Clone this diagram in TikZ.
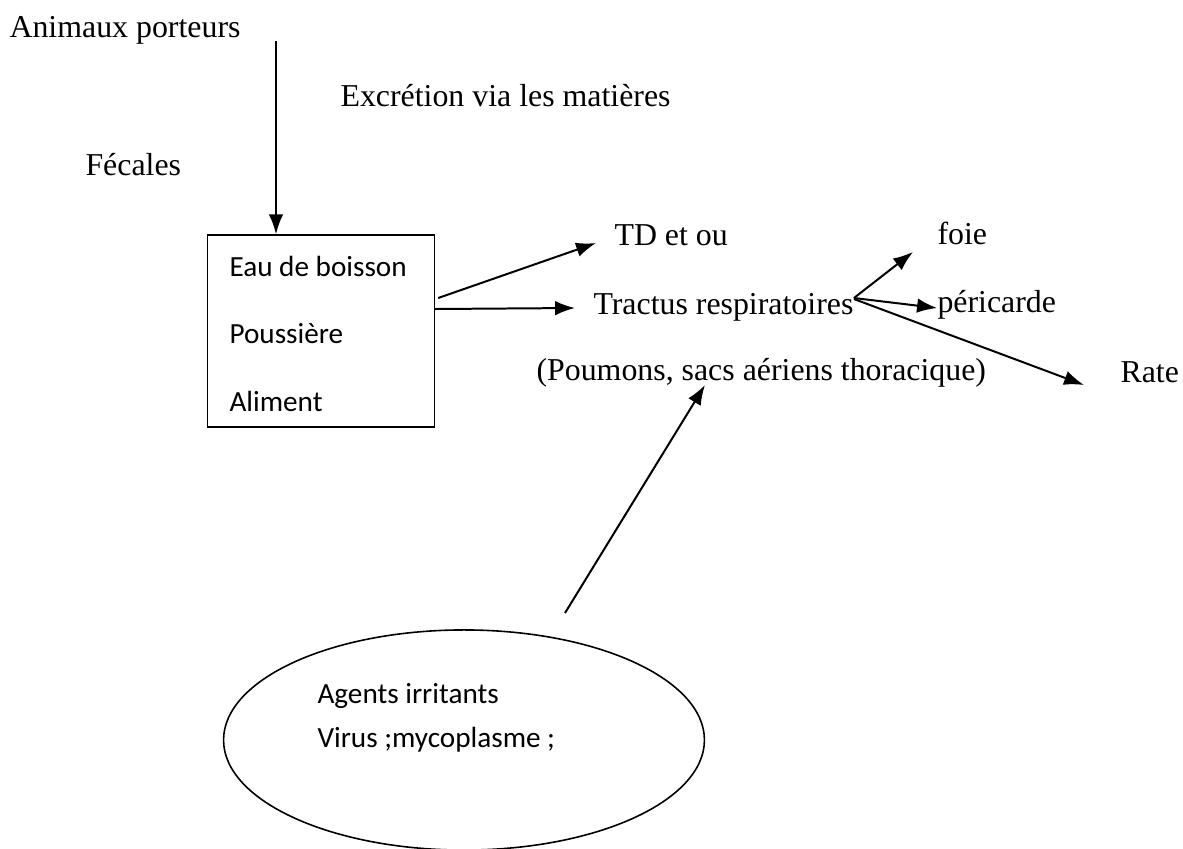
\documentclass[tikz,border=0pt]{standalone}
\usepackage{fontspec}
\setmainfont{Liberation Serif}
\newfontfamily\calibri{Carlito}
\usetikzlibrary{arrows.meta,calc,shapes.geometric}

\begin{document}
\begin{tikzpicture}[x=0.3766pt, y=-0.3766pt,
  lbl/.style={inner sep=0pt, anchor=base west, font=\fontsize{12}{14}\selectfont},
  lblc/.style={inner sep=0pt, anchor=base west, font=\calibri\fontsize{11}{13}\selectfont},
  arr/.style={-{Latex[length=7.5pt,width=5.5pt]}, line width=0.75pt},
  frame/.style={draw, line width=0.6pt, inner sep=0pt}]
\useasboundingbox (0,0) rectangle (1183,848);
% carriers on top
\node[lbl] (anim) at (9,37) {Animaux porteurs};
\node[lbl] (excr) at (340,106) {Excrétion via les matières};
\node[lbl] (fec) at (85,175) {Fécales};
% box of vehicles
\node[frame, minimum width=85.4pt, minimum height=72.3pt] (box) at (321,331) {};
\node[lblc] (eau) at (229,276) {Eau de boisson};
\node[lblc] (pous) at (229,343) {Poussière};
\node[lblc] (alim) at (229,411) {Aliment};
% targets
\node[lbl] (td) at (614,245) {TD et ou};
\node[lbl] (trac) at (593,314) {Tractus respiratoires};
\node[lbl] (poum) at (536,380) {(Poumons, sacs aériens thoracique)};
\node[lbl] (foie) at (937,244) {foie};
\node[lbl] (peri) at (937,312) {péricarde};
\node[lbl] (rate) at (1120,382) {Rate};
% ellipse of agents
\node[frame, ellipse, minimum width=181.1pt, minimum height=82.9pt] (agents) at (464,740) {};
\node[lblc] (irr) at (317,703) {Agents irritants};
\node[lblc] (vir) at (317,747) {Virus ;mycoplasme ;};
% connectors
\coordinate (src) at (276,41);
\draw[arr] (src) -- (src |- box.north);
\draw[arr] ($(box.east)+(3,-33)$) -- ($(td.base west)+(-18,-2)$);
\draw[arr] ($(box.east)+(0,-22)$) -- ($(trac.base west)+(-18,-6)$);
\draw[arr] ($(trac.base east)+(0,-16)$) -- ($(foie.base west)+(-24,8)$);
\draw[arr] ($(trac.base east)+(0,-16)$) -- ($(peri.base west)+(0,-4)$);
\draw[arr] ($(trac.base east)+(0,-15)$) -- ($(rate.base west)+(-36,3)$);
\coordinate (agtip) at (565,613);
\draw[arr] (agtip) -- ($(poum.base west)+(169,5)$);
\end{tikzpicture}
\end{document}
